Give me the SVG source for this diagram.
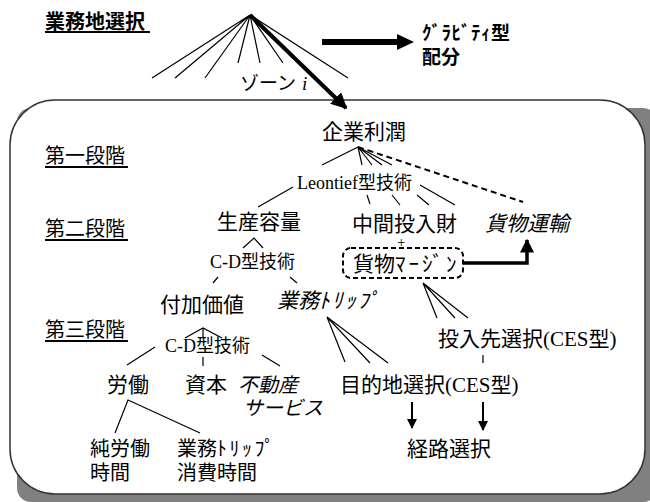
<svg xmlns="http://www.w3.org/2000/svg" width="650" height="502" viewBox="0 0 650 502">
<style>
text{font-family:"Liberation Serif","Noto Sans CJK JP",serif;fill:#000}
.j{font-family:"Noto Sans CJK JP","Liberation Sans",sans-serif;font-size:21px}
.s{font-family:"Liberation Serif","Noto Sans CJK JP",serif;font-size:18px}
.m{font-family:"Liberation Serif","Noto Sans CJK JP",serif;font-size:21px}
.h{font-family:"Noto Sans CJK JP","Liberation Sans",sans-serif;font-size:20px}
.b{font-weight:bold}
.it{font-style:italic}
.ln{stroke:#000;stroke-width:1.2;fill:none}
.ul{stroke:#000;stroke-width:2}
</style>
<defs>
<marker id="ah" viewBox="0 0 10 10" refX="9" refY="5" markerWidth="4" markerHeight="4" orient="auto" markerUnits="strokeWidth"><path d="M0,0L10,5L0,10z" fill="#000"/></marker>
<marker id="ah2" viewBox="0 0 10 10" refX="9" refY="5" markerWidth="5" markerHeight="5" orient="auto" markerUnits="strokeWidth"><path d="M0,0L10,5L0,10z" fill="#000"/></marker>
</defs>
<g id="frame">
<rect x="17" y="108" width="640" height="394" rx="14" fill="#808080"/>
<rect x="10" y="100" width="635" height="394" rx="45" fill="#fff" stroke="#333" stroke-width="1.5"/>
</g>
<g id="connectors">
<path class="ln" d="M250,15L152,78M250,15L175,78M250,15L205,78M250,15L238,63M250,15L260,63M250,15L283,63M250,15L348,78"/>
<line x1="250" y1="15" x2="346" y2="108" stroke="#000" stroke-width="4" marker-end="url(#ah)"/>
<line x1="322" y1="42" x2="398" y2="42" stroke="#000" stroke-width="6"/>
<path d="M397,34L414,42L397,50z" fill="#000"/>
<path class="ln" d="M358,147L322,165M293,187L258,207M358,147L362,165M358,147L372,165M358,147L382,165M358,147L392,165M367,195L370,204M392,195L400,205M417,195L429,205M420,185L455,205"/>
<line x1="358" y1="147" x2="523" y2="202" stroke="#000" stroke-width="2" stroke-dasharray="6,4"/>
<path d="M463,263H527V240" stroke="#000" stroke-width="3.5" fill="none" marker-end="url(#ah)"/>
<path class="ln" d="M243,248L254,238L263,248M218,277L213,283M290,277L297,283"/>
<path class="ln" d="M185,338L203,328L222,338M203,328V338M155,347L127,365M203,357V366M262,355L280,366"/>
<path class="ln" d="M115,433L128,400L200,433"/>
<path class="ln" d="M327,317L345,362M327,317L370,363M327,317L388,363"/>
<path class="ln" d="M423,283L437,318M423,283L455,318M423,283L468,318M483,355V363"/>
<line x1="412" y1="402" x2="412" y2="428" stroke="#000" stroke-width="2" marker-end="url(#ah2)"/>
<line x1="483" y1="402" x2="483" y2="430" stroke="#000" stroke-width="2" marker-end="url(#ah2)"/>
</g>
<g id="heading-gyomuchi"><text class="h b" x="45" y="29">業務地選択</text><line class="ul" x1="45" y1="32" x2="150" y2="32"/></g>
<g id="zone"><text class="j" x="240" y="90" style="font-size:19px">ゾーン</text><text x="302" y="90" class="it" style="font-size:19px;font-family:'Liberation Serif',serif">i</text></g>
<g id="gravity"><text class="h b" x="422" y="40" style="font-size:19px;letter-spacing:0.5px">ｸﾞﾗﾋﾞﾃｨ型</text><text class="h b" x="422" y="64" style="font-size:19px">配分</text></g>
<g id="stage1"><text class="h" x="45" y="163">第一段階</text><line class="ul" x1="45" y1="167" x2="128" y2="167"/></g>
<g id="stage2"><text class="h" x="45" y="236">第二段階</text><line class="ul" x1="45" y1="240" x2="128" y2="240"/></g>
<g id="stage3"><text class="h" x="45" y="337">第三段階</text><line class="ul" x1="45" y1="341" x2="128" y2="341"/></g>
<g id="kigyou-rijun"><text class="j" x="322" y="139">企業利潤</text></g>
<g id="leontief"><text class="s" x="297" y="189">Leontief型技術</text></g>
<g id="seisan-youryou"><text class="j" x="217" y="229">生産容量</text></g>
<g id="chukan-tounyuzai"><text class="j" x="352" y="231">中間投入財</text></g>
<g id="kamotsu-unyu"><text class="j it" x="485" y="231">貨物運輸</text></g>
<g id="plus"><text x="397" y="247" style="font-size:15px">+</text></g>
<g id="kamotsu-margin"><rect x="343" y="248" width="120" height="30" rx="8" fill="none" stroke="#000" stroke-width="2" stroke-dasharray="5,3"/><text class="j" x="353" y="271">貨物<tspan style="letter-spacing:3px">ﾏｰｼﾞﾝ</tspan></text></g>
<g id="cd1"><text class="s" x="210" y="268">C-D型技術</text></g>
<g id="fuka-kachi"><text class="j" x="160" y="312">付加価値</text></g>
<g id="gyomu-trip"><text class="j it" x="277" y="308">業務<tspan style="letter-spacing:2.5px">ﾄﾘｯﾌﾟ</tspan></text></g>
<g id="cd2"><text class="s" x="165" y="352">C-D型技術</text></g>
<g id="roudou"><text class="j" x="107" y="392">労働</text></g>
<g id="shihon"><text class="j" x="185" y="392">資本</text></g>
<g id="fudousan"><text class="j it" x="238" y="392" style="font-size:20px">不動産</text><text class="j it" x="243" y="415" style="font-size:20px">サービス</text></g>
<g id="jun-roudou"><text class="j" x="90" y="456" style="font-size:20px">純労働</text><text class="j" x="90" y="480" style="font-size:20px">時間</text></g>
<g id="trip-shouhi"><text class="j" x="177" y="456" style="font-size:20px">業務<tspan style="letter-spacing:2.5px">ﾄﾘｯﾌﾟ</tspan></text><text class="j" x="177" y="480" style="font-size:20px">消費時間</text></g>
<g id="tounyusaki"><text class="m" x="438" y="346">投入先選択(CES型)</text></g>
<g id="mokutekichi"><text class="m" x="340" y="392">目的地選択(CES型)</text></g>
<g id="keiro"><text class="j" x="407" y="456">経路選択</text></g>
</svg>
